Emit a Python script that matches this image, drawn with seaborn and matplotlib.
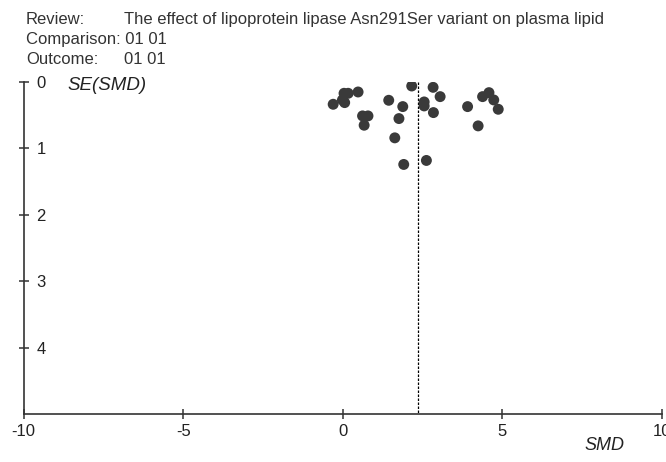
import numpy as np
import pandas as pd
import seaborn as sns
import matplotlib.pyplot as plt

# funnel plot data
smd = [-0.30, 0.04, 0.17, -0.01, 0.06, 0.48, 0.62, 0.79, 0.67,
       1.44, 1.88, 1.76, 1.63, 1.91, 2.16, 2.83, 3.05, 2.55, 2.55,
       2.84, 2.62, 3.91, 4.24, 4.38, 4.58, 4.73, 4.87]
se_smd = [0.335, 0.17, 0.17, 0.27, 0.31, 0.15, 0.51, 0.51, 0.65,
          0.275, 0.37, 0.55, 0.84, 1.24, 0.06, 0.08, 0.22, 0.30, 0.36,
          0.46, 1.18, 0.37, 0.66, 0.22, 0.16, 0.27, 0.41]
pooled = 2.37
xticks = [-10, -5, 0, 5, 10]
yticks = [0, 1, 2, 3, 4]

df = pd.DataFrame({'SMD': smd, 'SE': se_smd})

sns.set_style('white')
plt.rcParams['font.family'] = ['Liberation Sans', 'DejaVu Sans']
plt.rcParams['axes.unicode_minus'] = False

fig = plt.figure(figsize=(6.66, 4.62), dpi=100)
ax = fig.add_axes([0.0353, 0.103, 0.9587, 0.7195])

sns.scatterplot(data=df, x='SMD', y='SE', ax=ax, s=62, color='#3a3a3a',
                edgecolor='none', zorder=3)
ax.plot([pooled, pooled], [0, 5], color='black', lw=0.9, ls=(0, (2, 1.2)))

ax.set_xlim(-10, 10)
ax.set_ylim(5, 0)
ax.set_xticks(xticks)
ax.set_yticks(yticks)
ax.set_xlabel('')
ax.set_ylabel('')
for s in ['top', 'right']:
    ax.spines[s].set_visible(False)
for s in ['left', 'bottom']:
    ax.spines[s].set_color('#333333')
    ax.spines[s].set_linewidth(1.2)
ax.tick_params(axis='both', which='major', bottom=True, left=True,
               direction='inout', length=7.5, width=1.1,
               color='#333333', labelsize=12, labelcolor='#222222')
ax.tick_params(axis='x', pad=3)
ax.tick_params(axis='y', pad=-13)
for lab in ax.get_yticklabels():
    lab.set_ha('left')

fig.text(0.102, 0.816, 'SE(SMD)', fontsize=13.5, style='italic', color='#222222', va='center')
fig.text(0.878, 0.025, 'SMD', fontsize=13, style='italic', color='#222222')

hdr = dict(fontsize=12, color='#333333', va='center')
fig.text(0.039, 0.957, 'Review:', **hdr)
fig.text(0.186, 0.957, 'The effect of lipoprotein lipase Asn291Ser variant on plasma lipid', **hdr)
fig.text(0.039, 0.9145, 'Comparison: 01 01', **hdr)
fig.text(0.039, 0.872, 'Outcome:', **hdr)
fig.text(0.186, 0.872, '01 01', **hdr)

fig.savefig('out.png', dpi=100)
